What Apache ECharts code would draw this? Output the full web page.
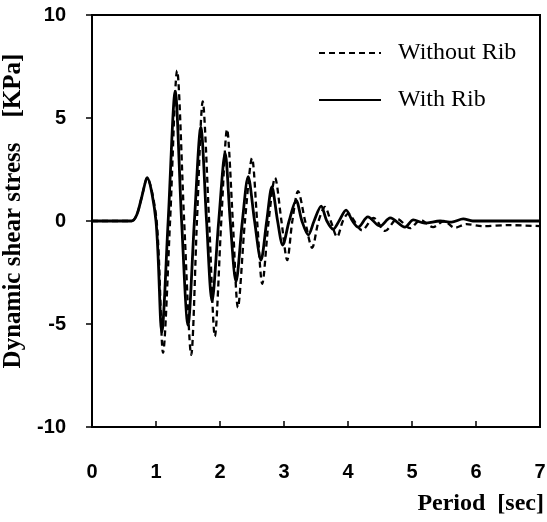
<!DOCTYPE html>
<html>
<head>
<meta charset="utf-8">
<script src="https://cdn.jsdelivr.net/npm/echarts@6/dist/echarts.min.js"></script>
<style>html,body{margin:0;padding:0;background:#fff;}#c{width:547px;height:522px;}</style>
</head>
<body>
<div id="c"></div>
<script>
const xTicks = [0, 1, 2, 3, 4, 5, 6, 7];
const yTicks = [-10, -5, 0, 5, 10];

const tWithout = [0, 0.62, 0.7, 0.78, 0.86, 1.01, 1.11, 1.22, 1.33, 1.44, 1.55, 1.64, 1.73, 1.83, 1.92, 2.02, 2.11, 2.2, 2.28, 2.39, 2.5, 2.58, 2.66, 2.76, 2.86, 2.96, 3.05, 3.13, 3.22, 3.33, 3.44, 3.54, 3.64, 3.73, 3.83, 3.92, 4.0, 4.22, 4.4, 4.58, 4.77, 4.97, 5.13, 5.33, 5.5, 5.67, 5.85, 6.1, 6.5, 7.0];
const vWithout = [0, 0, 0.3, 1.2, 2.1, 0, -6.4, 0, 7.3, 0, -6.5, 0, 5.8, 0, -5.6, 0, 4.45, 0, -4.2, 0, 3.05, 0, -3.05, 0, 2.1, 0, -1.9, 0, 1.45, 0, -1.3, 0, 0.68, 0, -0.77, 0, 0.35, -0.45, 0.15, -0.48, 0.1, -0.35, 0.05, -0.3, 0.0, -0.33, -0.15, -0.25, -0.2, -0.25];

const tWith = [0, 0.62, 0.7, 0.78, 0.86, 1.0, 1.09, 1.19, 1.30, 1.40, 1.50, 1.60, 1.70, 1.79, 1.875, 1.98, 2.08, 2.16, 2.25, 2.35, 2.44, 2.54, 2.64, 2.73, 2.81, 2.9, 2.98, 3.08, 3.19, 3.28, 3.38, 3.47, 3.58, 3.67, 3.77, 3.86, 3.97, 4.07, 4.16, 4.31, 4.5, 4.66, 4.89, 5.02, 5.2, 5.44, 5.62, 5.8, 5.95, 6.5, 7.0];
const vWith = [0, 0, 0.3, 1.2, 2.1, 0, -5.4, 0, 6.3, 0, -5.05, 0, 4.55, 0, -3.9, 0, 3.3, 0, -2.95, 0, 2.15, 0, -1.9, 0, 1.65, 0, -1.17, 0, 1.0, 0, -0.68, 0, 0.72, 0, -0.4, 0, 0.53, 0, -0.3, 0.2, -0.25, 0.15, -0.3, 0.05, -0.1, 0.0, -0.05, 0.1, 0, 0, 0];

const seriesNames = ['Without Rib', 'With Rib'];

const pair = (t, v) => t.map((x, i) => [x, v[i]]);

const chart = echarts.init(document.getElementById('c'), null, {renderer: 'canvas'});
const tickFont = {fontFamily: 'Liberation Sans', fontWeight: 'bold', fontSize: 20, color: '#000'};
chart.setOption({
  animation: false,
  backgroundColor: '#fff',
  grid: {left: 92, right: 7, top: 15, bottom: 95, outerBoundsMode: 'none', containLabel: false,
         show: true, borderColor: '#000', borderWidth: 2, backgroundColor: 'transparent'},
  legend: {
    left: 313, top: 36, orient: 'vertical', itemWidth: 62, itemHeight: 14, itemGap: 23,
    data: seriesNames,
    itemStyle: {opacity: 0},
    textStyle: {fontFamily: 'Liberation Serif', fontSize: 24, color: '#000', padding: [0, 0, 0, 12]}
  },
  xAxis: {
    type: 'value', min: xTicks[0], max: xTicks[xTicks.length - 1], interval: 1,
    axisLine: {show: true, onZero: false, lineStyle: {color: '#000', width: 2}},
    axisTick: {show: true, inside: true, length: 6, lineStyle: {color: '#000', width: 1.5}},
    axisLabel: Object.assign({margin: 35}, tickFont),
    splitLine: {show: false},
    name: 'Period  [sec]', nameLocation: 'end', nameGap: 0,
    nameTextStyle: {fontFamily: 'Liberation Serif', fontWeight: 'bold', fontSize: 24, color: '#000', align: 'right', verticalAlign: 'top', padding: [65, -4, 0, 0]}
  },
  yAxis: {
    type: 'value', min: yTicks[0], max: yTicks[yTicks.length - 1], interval: 5,
    axisLine: {show: true, onZero: false, lineStyle: {color: '#000', width: 2}},
    axisTick: {show: true, inside: false, length: 6, lineStyle: {color: '#000', width: 1.5}},
    axisLabel: Object.assign({margin: 26}, tickFont),
    splitLine: {show: false},
    name: 'Dynamic shear stress    [KPa]', nameLocation: 'middle', nameGap: 64,
    nameTextStyle: {fontFamily: 'Liberation Serif', fontWeight: 'bold', fontSize: 25, color: '#000', padding: [0, 0, 0, 20]}
  },
  series: [
    {name: seriesNames[0], type: 'line', data: pair(tWithout, vWithout), symbol: 'none', smooth: 0.3,
     lineStyle: {color: '#000', width: 2.3, type: [6, 4]}, itemStyle: {color: '#000'}, z: 2},
    {name: seriesNames[1], type: 'line', data: pair(tWith, vWith), symbol: 'none', smooth: 0.3,
     lineStyle: {color: '#000', width: 2.8, type: 'solid'}, itemStyle: {color: '#000'}, z: 3}
  ]
});
</script>
</body>
</html>
